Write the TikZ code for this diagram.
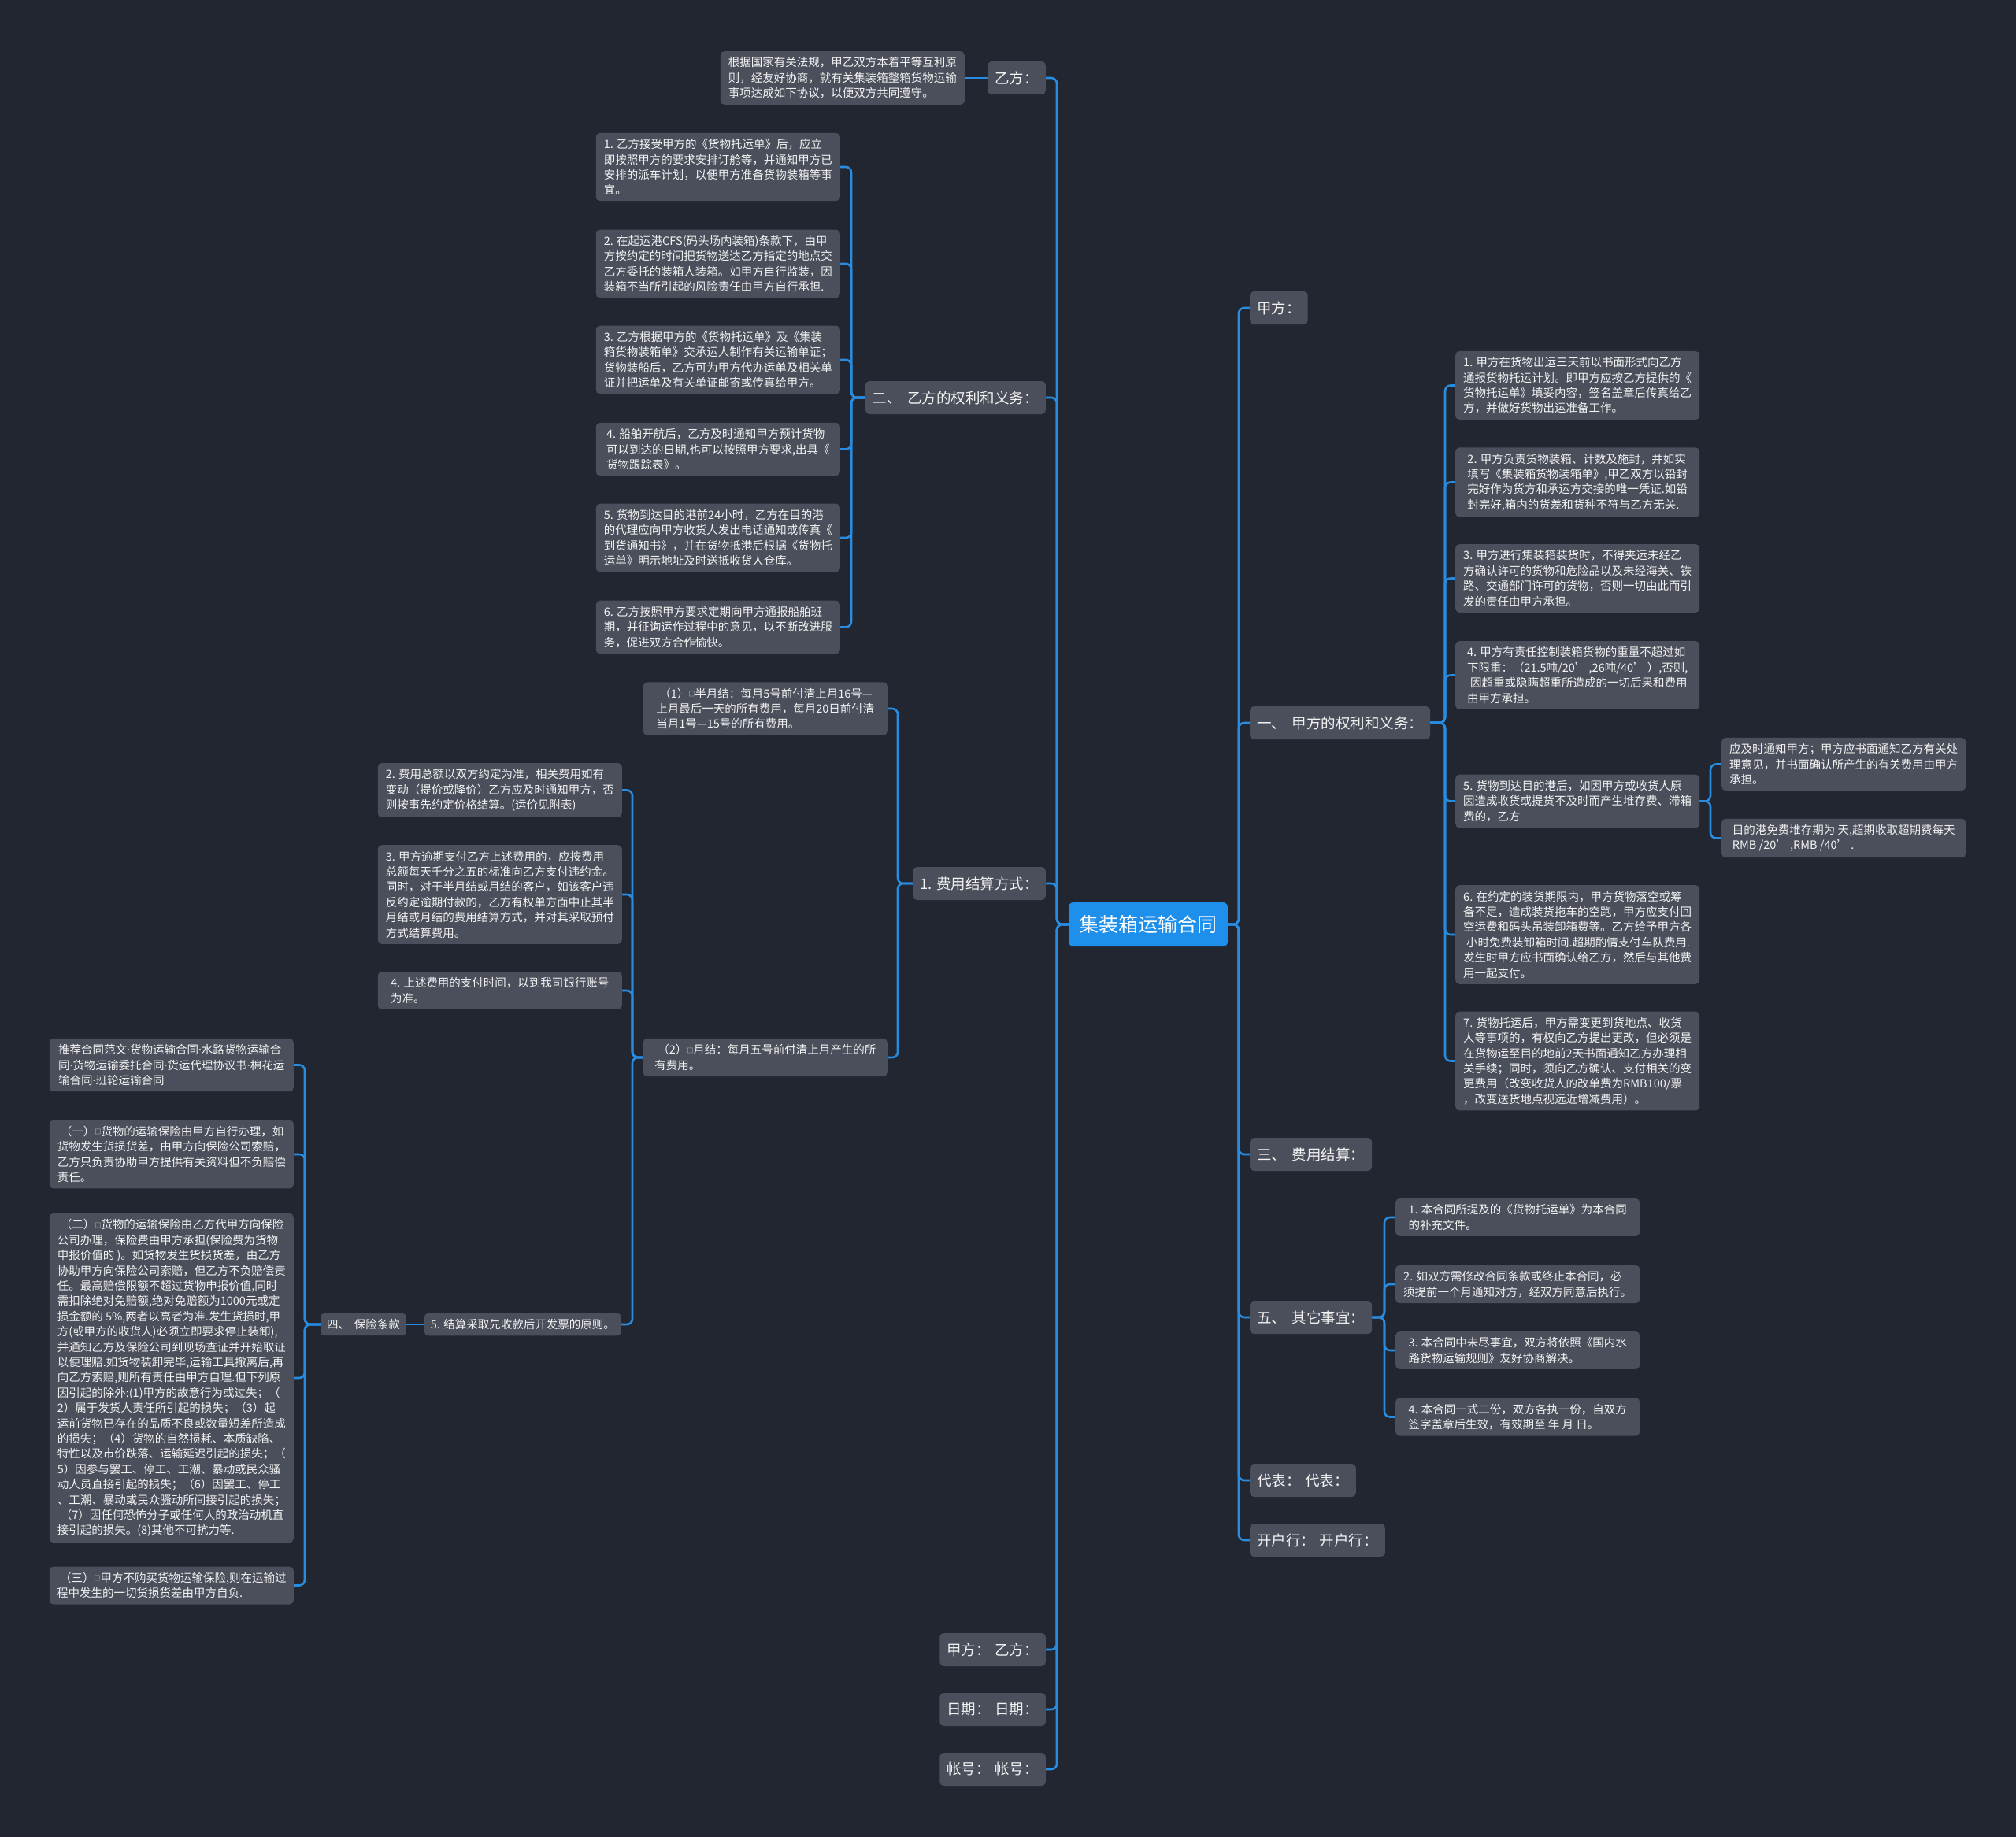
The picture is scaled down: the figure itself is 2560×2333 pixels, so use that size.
\documentclass[tikz,border=0pt]{standalone}
\usepackage{fontspec}
\newfontfamily\cjk{Noto Sans CJK SC}
\newfontfamily\latf{Noto Sans}
\definecolor{bg}{RGB}{34,38,48}
\definecolor{boxc}{RGB}{74,79,91}
\definecolor{linec}{RGB}{40,140,225}
\definecolor{rootc}{RGB}{30,144,235}
\definecolor{txt}{RGB}{242,242,242}
\newcommand\sqb{\raisebox{0.12em}{\scalebox{0.55}{□}}}
\newcommand\ind{\hspace*{4pt}}
\newcommand\md{{\latf ·}}
\tikzset{
  conn/.style={draw=linec, line width=2.6pt, rounded corners=7pt},
  leaf/.style={fill=boxc, rounded corners=5pt, text=txt, font=\cjk\fontsize{14.5}{19.4}\selectfont, align=left, inner xsep=8pt, inner ysep=7.5pt, minimum width=310pt},
  leafs/.style={fill=boxc, rounded corners=5pt, text=txt, font=\cjk\fontsize{14.5}{19.4}\selectfont, align=left, inner xsep=8pt, inner ysep=7.5pt},
  topic/.style={fill=boxc, rounded corners=5pt, text=txt, font=\cjk\fontsize{18.5}{22}\selectfont, inner xsep=9pt, minimum height=42pt},
  root/.style={fill=rootc, rounded corners=6pt, text=white, font=\cjk\fontsize{25}{30}\selectfont, minimum width=202pt, minimum height=56pt},
}
\begin{document}
\begin{tikzpicture}[x=1pt,y=-1pt]
\fill[bg] (0,0) rectangle (2560,2333);
\useasboundingbox (0,0) rectangle (2560,2333);

% root
\node[root] (c) at (1458,1174) {集装箱运输合同};

% left topics
\node[topic,anchor=east] (yi) at (1328,99) {乙方：};
\node[topic,anchor=east] (er) at (1328,505) {二、\hspace{0.4em}乙方的权利和义务：};
\node[topic,anchor=east] (fy) at (1328,1122) {1. 费用结算方式：};
\node[topic,anchor=east] (qm) at (1328,2095) {甲方：\hspace{0.3em}乙方：};
\node[topic,anchor=east] (rq) at (1328,2171) {日期：\hspace{0.3em}日期：};
\node[topic,anchor=east] (zh) at (1328,2247) {帐号：\hspace{0.3em}帐号：};

% right topics
\node[topic,anchor=west] (jf) at (1587,391) {甲方：};
\node[topic,anchor=west] (ya) at (1587,918) {一、\hspace{0.4em}甲方的权利和义务：};
\node[topic,anchor=west] (san) at (1587,1466) {三、\hspace{0.4em}费用结算：};
\node[topic,anchor=west] (wu) at (1587,1673) {五、\hspace{0.4em}其它事宜：};
\node[topic,anchor=west] (db) at (1587,1880) {代表：\hspace{0.3em}代表：};
\node[topic,anchor=west] (kh) at (1587,1956) {开户行：\hspace{0.3em}开户行：};

% yi content
\node[leaf,anchor=east] (yic) at (1225,99) {根据国家有关法规，甲乙双方本着平等互利原\\则，经友好协商，就有关集装箱整箱货物运输\\事项达成如下协议，以便双方共同遵守。};

% er children
\node[leaf,anchor=east] (e1) at (1067,212) {1. 乙方接受甲方的《货物托运单》后，应立\\即按照甲方的要求安排订舱等，并通知甲方已\\安排的派车计划，以便甲方准备货物装箱等事\\宜。};
\node[leaf,anchor=east] (e2) at (1067,335) {2. 在起运港CFS(码头场内装箱)条款下，由甲\\方按约定的时间把货物送达乙方指定的地点交\\乙方委托的装箱人装箱。如甲方自行监装，因\\装箱不当所引起的风险责任由甲方自行承担.};
\node[leaf,anchor=east] (e3) at (1067,457) {3. 乙方根据甲方的《货物托运单》及《集装\\箱货物装箱单》交承运人制作有关运输单证；\\货物装船后，乙方可为甲方代办运单及相关单\\证并把运单及有关单证邮寄或传真给甲方。};
\node[leaf,anchor=east] (e4) at (1067,570.5) {4. 船舶开航后，乙方及时通知甲方预计货物\\可以到达的日期,也可以按照甲方要求,出具《\\货物跟踪表》。};
\node[leaf,anchor=east] (e5) at (1067,683) {5. 货物到达目的港前24小时，乙方在目的港\\的代理应向甲方收货人发出电话通知或传真《\\到货通知书》，并在货物抵港后根据《货物托\\运单》明示地址及时送抵收货人仓库。};
\node[leaf,anchor=east] (e6) at (1067,796.5) {6. 乙方按照甲方要求定期向甲方通报船舶班\\期，并征询运作过程中的意见，以不断改进服\\务，促进双方合作愉快。};

% fy children
\node[leaf,anchor=east] (f1) at (1127,900) {\ind（1）\sqb 半月结：每月5号前付清上月16号—\\上月最后一天的所有费用，每月20日前付清\\当月1号—15号的所有费用。};
\node[leaf,anchor=east] (f2) at (1127,1343) {\ind（2）\sqb 月结：每月五号前付清上月产生的所\\有费用。};

% f2 children
\node[leaf,anchor=east] (g2) at (790,1003.5) {2. 费用总额以双方约定为准，相关费用如有\\变动（提价或降价）乙方应及时通知甲方，否\\则按事先约定价格结算。(运价见附表)};
\node[leaf,anchor=east] (g3) at (790,1136) {3. 甲方逾期支付乙方上述费用的，应按费用\\总额每天千分之五的标准向乙方支付违约金。\\同时，对于半月结或月结的客户，如该客户违\\反约定逾期付款的，乙方有权单方面中止其半\\月结或月结的费用结算方式，并对其采取预付\\方式结算费用。};
\node[leaf,anchor=east] (g4) at (790,1258) {4. 上述费用的支付时间，以到我司银行账号\\为准。};
\node[leafs,anchor=east] (g5) at (789,1682) {5. 结算采取先收款后开发票的原则。};
\node[leafs,anchor=east] (si) at (516,1682) {四、\hspace{0.4em}保险条款};

% si children
\node[leaf,anchor=east] (h0) at (373,1352.5) {推荐合同范文\md 货物运输合同\md 水路货物运输合\\同\md 货物运输委托合同\md 货运代理协议书\md 棉花运\\输合同\md 班轮运输合同};
\node[leaf,anchor=east] (h1) at (373,1466) {\ind（一）\sqb 货物的运输保险由甲方自行办理，如\\货物发生货损货差，由甲方向保险公司索赔，\\乙方只负责协助甲方提供有关资料但不负赔偿\\责任。};
\node[leaf,anchor=east] (h2) at (373,1750) {\ind（二）\sqb 货物的运输保险由乙方代甲方向保险\\公司办理，保险费由甲方承担(保险费为货物\\申报价值的 )。如货物发生货损货差，由乙方\\协助甲方向保险公司索赔，但乙方不负赔偿责\\任。最高赔偿限额不超过货物申报价值,同时\\需扣除绝对免赔额,绝对免赔额为1000元或定\\损金额的 5\%,两者以高者为准.发生货损时,甲\\方(或甲方的收货人)必须立即要求停止装卸),\\并通知乙方及保险公司到现场查证并开始取证\\以便理赔.如货物装卸完毕,运输工具撤离后,再\\向乙方索赔,则所有责任由甲方自理.但下列原\\因引起的除外:(1)甲方的故意行为或过失；（\\2）属于发货人责任所引起的损失；（3）起\\运前货物已存在的品质不良或数量短差所造成\\的损失；（4）货物的自然损耗、本质缺陷、\\特性以及市价跌落、运输延迟引起的损失；（\\5）因参与罢工、停工、工潮、暴动或民众骚\\动人员直接引起的损失；（6）因罢工、停工\\、工潮、暴动或民众骚动所间接引起的损失；\\\ind（7）因任何恐怖分子或任何人的政治动机直\\接引起的损失。(8)其他不可抗力等.};
\node[leaf,anchor=east] (h3) at (373,2013.5) {\ind（三）\sqb 甲方不购买货物运输保险,则在运输过\\程中发生的一切货损货差由甲方自负.};

% ya children
\node[leaf,anchor=west] (j1) at (1848,489.5) {1. 甲方在货物出运三天前以书面形式向乙方\\通报货物托运计划。即甲方应按乙方提供的《\\货物托运单》填妥内容，签名盖章后传真给乙\\方，并做好货物出运准备工作。};
\node[leaf,anchor=west] (j2) at (1848,612.5) {2. 甲方负责货物装箱、计数及施封，并如实\\填写《集装箱货物装箱单》,甲乙双方以铅封\\完好作为货方和承运方交接的唯一凭证.如铅\\封完好,箱内的货差和货种不符与乙方无关.};
\node[leaf,anchor=west] (j3) at (1848,734.5) {3. 甲方进行集装箱装货时，不得夹运未经乙\\方确认许可的货物和危险品以及未经海关、铁\\路、交通部门许可的货物，否则一切由此而引\\发的责任由甲方承担。};
\node[leaf,anchor=west] (j4) at (1848,857.5) {4. 甲方有责任控制装箱货物的重量不超过如\\下限重：（21.5吨/20’ ,26吨/40’ ）,否则,\\\ind 因超重或隐瞒超重所造成的一切后果和费用\\由甲方承担。};
\node[leaf,anchor=west] (j5) at (1848,1017.5) {5. 货物到达目的港后，如因甲方或收货人原\\因造成收货或提货不及时而产生堆存费、滞箱\\费的，乙方};
\node[leaf,anchor=west] (j6) at (1848,1187) {6. 在约定的装货期限内，甲方货物落空或筹\\备不足，造成装货拖车的空跑，甲方应支付回\\空运费和码头吊装卸箱费等。乙方给予甲方各\\\ind 小时免费装卸箱时间.超期酌情支付车队费用.\\发生时甲方应书面确认给乙方，然后与其他费\\用一起支付。};
\node[leaf,anchor=west] (j7) at (1848,1347.5) {7. 货物托运后，甲方需变更到货地点、收货\\人等事项的，有权向乙方提出更改，但必须是\\在货物运至目的地前2天书面通知乙方办理相\\关手续；同时，须向乙方确认、支付相关的变\\更费用（改变收货人的改单费为RMB100/票\\，改变送货地点视远近增减费用）。};

% j5 children
\node[leaf,anchor=west] (r1) at (2186,970.5) {应及时通知甲方；甲方应书面通知乙方有关处\\理意见，并书面确认所产生的有关费用由甲方\\承担。};
\node[leaf,anchor=west] (r2) at (2186,1064.5) {目的港免费堆存期为 天,超期收取超期费每天\\RMB /20’ ,RMB /40’ .};

% wu children
\node[leaf,anchor=west] (w1) at (1772,1546) {1. 本合同所提及的《货物托运单》为本合同\\的补充文件。};
\node[leaf,anchor=west] (w2) at (1772,1631) {2. 如双方需修改合同条款或终止本合同，必\\须提前一个月通知对方，经双方同意后执行。};
\node[leaf,anchor=west] (w3) at (1772,1715) {3. 本合同中未尽事宜，双方将依照《国内水\\路货物运输规则》友好协商解决。};
\node[leaf,anchor=west] (w4) at (1772,1799.5) {4. 本合同一式二份，双方各执一份，自双方\\签字盖章后生效，有效期至 年 月 日。};

% connectors: trunk
\foreach \n in {yi,er,fy,qm,rq,zh} \draw[conn] (c.west) -- (1342,1174) |- (\n.east);
\foreach \n in {jf,ya,san,wu,db,kh} \draw[conn] (c.east) -- (1573,1174) |- (\n.west);

\draw[conn] (yic.east) -- (yi.west);
\foreach \n in {e1,e2,e3,e4,e5,e6} \draw[conn] (er.west) -- (1081,505) |- (\n.east);
\foreach \n in {f1,f2} \draw[conn] (fy.west) -- (1140,1122) |- (\n.east);
\foreach \n in {g2,g3,g4,g5} \draw[conn] (f2.west) -- (803,1343) |- (\n.east);
\draw[conn] (g5.west) -- (si.east);
\foreach \n in {h0,h1,h2,h3} \draw[conn] (si.west) -- (387,1682) |- (\n.east);
\foreach \n in {j1,j2,j3,j4,j5,j6,j7} \draw[conn] (ya.east) -- (1835,918) |- (\n.west);
\foreach \n in {r1,r2} \draw[conn] (j5.east) -- (2172,1017.5) |- (\n.west);
\foreach \n in {w1,w2,w3,w4} \draw[conn] (wu.east) -- (1758,1673) |- (\n.west);
\end{tikzpicture}
\end{document}
